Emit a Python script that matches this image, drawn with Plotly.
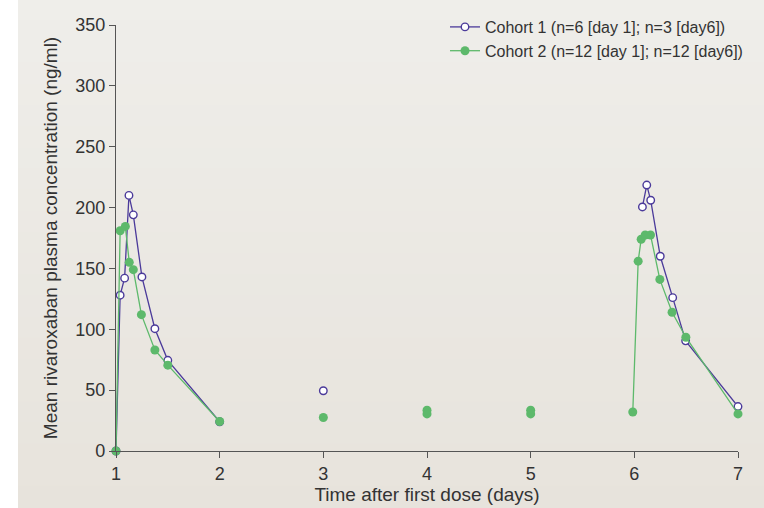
import plotly.graph_objects as go

# ---- data ----
c1_x = [1.0, 1.04, 1.083, 1.125, 1.167, 1.25, 1.375, 1.5, 2.0, None, 3.0, None,
        6.078, 6.12, 6.158, 6.25, 6.37, 6.495, 7.0]
c1_y = [0, 128, 142, 210, 194, 143, 100.5, 74.5, 24, None, 49.5, None,
        200.5, 218.5, 206, 160, 126, 90.5, 36.5]

c2_x = [1.0, 1.04, 1.09, 1.128, 1.167, 1.245, 1.375, 1.5, 2.0, None, 3.0, None,
        4.0, 4.0, None, 5.0, 5.0, None,
        5.985, 6.037, 6.066, 6.105, 6.156, 6.246, 6.364, 6.497, 7.0]
c2_y = [0, 181, 184.5, 155, 149, 112, 83, 70.5, 24.2, None, 27.5, None,
        33.5, 30.5, None, 33.5, 30.5, None,
        32, 156, 174, 177.5, 177.5, 141, 114, 93.5, 30.5]

c1_name = "Cohort 1 (n=6 [day 1]; n=3 [day6])"
c2_name = "Cohort 2 (n=12 [day 1]; n=12 [day6])"

x_ticks = [1, 2, 3, 4, 5, 6, 7]
y_ticks = [0, 50, 100, 150, 200, 250, 300, 350]

purple = "#4B3A9A"
green = "#5DB96B"
font_fam = "Liberation Sans, Arial, sans-serif"

fig = go.Figure()
fig.add_trace(go.Scatter(
    x=c1_x, y=c1_y, name=c1_name, mode="lines+markers", cliponaxis=False,
    line=dict(color=purple, width=1.3),
    marker=dict(symbol="circle", size=7.5, color="white",
                line=dict(color=purple, width=1.4)),
))
fig.add_trace(go.Scatter(
    x=c2_x, y=c2_y, name=c2_name, mode="lines+markers", cliponaxis=False,
    line=dict(color=green, width=1.3),
    marker=dict(symbol="circle", size=9, color=green, line=dict(width=0)),
))

# background: white strip on the left, beige panel with a soft vertical gradient
L, R, T, B = 116, 26, 25, 57
W, H = 764, 508
pw, ph = W - L - R, H - T - B
def px_x(p):
    return (p - L) / pw
def px_y(p):
    return (H - B - p) / ph

shapes = []
top_c = (239, 238, 234)
bot_c = (231, 227, 220)
n = 24
for i in range(n):
    t = (i + 0.5) / n
    c = tuple(round(top_c[k] + (bot_c[k] - top_c[k]) * t) for k in range(3))
    y0 = H * i / n
    y1 = H * (i + 1) / n + 1
    shapes.append(dict(type="rect", xref="paper", yref="paper", layer="below",
                       x0=px_x(18), x1=px_x(W + 2), y0=px_y(y0 - 1), y1=px_y(y1),
                       fillcolor="rgb(%d,%d,%d)" % c, line=dict(width=0)))

fig.update_layout(
    width=W, height=H,
    margin=dict(l=L, r=R, t=T, b=B, autoexpand=False),
    paper_bgcolor="white",
    plot_bgcolor="rgba(0,0,0,0)",
    shapes=shapes,
    font=dict(family=font_fam, color="#333333", size=18),
    showlegend=True,
    legend=dict(
        x=px_x(748), xanchor="right", y=px_y(10), yanchor="top",
        bgcolor="rgba(0,0,0,0)", font=dict(size=16, color="#333333"),
        tracegroupgap=0,
    ),
    xaxis=dict(
        range=[1, 7], tickvals=x_ticks, ticks="outside", ticklen=6,
        tickcolor="#555555", showline=True, linecolor="#555555", linewidth=1.2,
        showgrid=False, zeroline=False, automargin=False,
        tickfont=dict(size=18, color="#333333"),
        title=dict(text="Time after first dose (days)", font=dict(size=19), standoff=4),
    ),
    yaxis=dict(
        range=[0, 350], tickvals=y_ticks, ticks="outside", ticklen=6,
        tickcolor="#555555", showline=True, linecolor="#555555", linewidth=1.2,
        showgrid=False, zeroline=False, automargin=False,
        tickfont=dict(size=18, color="#333333"),
        title=dict(text="Mean rivaroxaban plasma concentration (ng/ml)",
                   font=dict(size=19), standoff=12),
    ),
)

fig.write_html("out.html")
